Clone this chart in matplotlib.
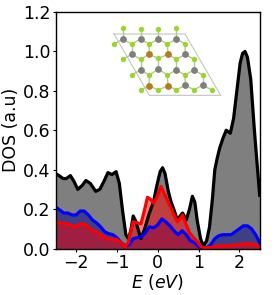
import numpy as np
import matplotlib
matplotlib.use("Agg")
import matplotlib.pyplot as plt

# total DOS
e_total = [-2.5, -2.42, -2.32, -2.24, -2.14, -2.05, -1.96, -1.85, -1.76, -1.65, -1.52, -1.42, -1.32, -1.22, -1.12, -1.02,
           -0.94, -0.86, -0.78, -0.72, -0.66, -0.6, -0.54, -0.47, -0.41, -0.32, -0.22, -0.1, -0.02, 0.06, 0.12, 0.18,
           0.26, 0.33, 0.41, 0.48, 0.55, 0.61, 0.7, 0.78, 0.85, 0.91, 0.97, 1.05, 1.12, 1.2, 1.27, 1.34, 1.4, 1.46,
           1.52, 1.6, 1.68, 1.78, 1.86, 1.94, 2.02, 2.08, 2.14, 2.2, 2.28, 2.37, 2.44, 2.5]
dos_total = [0.38, 0.37, 0.355, 0.355, 0.37, 0.34, 0.30, 0.32, 0.345, 0.33, 0.29, 0.30, 0.34, 0.385, 0.375, 0.39,
             0.33, 0.19, 0.07, 0.05, 0.09, 0.165, 0.14, 0.09, 0.05, 0.10, 0.17, 0.24, 0.32, 0.39, 0.41, 0.38,
             0.29, 0.235, 0.19, 0.145, 0.165, 0.18, 0.145, 0.2, 0.265, 0.235, 0.14, 0.05, 0.012, 0.04, 0.11, 0.25, 0.40, 0.46,
             0.51, 0.56, 0.60, 0.585, 0.66, 0.80, 0.94, 0.99, 1.0, 0.97, 0.86, 0.60, 0.42, 0.27]

# projected DOS
e_blue = [-2.5, -2.4, -2.3, -2.2, -2.1, -2.0, -1.9, -1.8, -1.7, -1.6, -1.5, -1.4, -1.3, -1.2, -1.1, -1.0, -0.9, -0.8,
          -0.7, -0.6, -0.5, -0.4, -0.3, -0.2, -0.1, 0.0, 0.1, 0.2, 0.3, 0.4, 0.5, 0.6, 0.7, 0.8, 0.9, 1.0, 1.1, 1.2,
          1.3, 1.4, 1.5, 1.6, 1.8, 2.0, 2.1, 2.2, 2.3, 2.4, 2.5]
dos_blue = [0.21, 0.195, 0.18, 0.18, 0.17, 0.17, 0.19, 0.19, 0.17, 0.145, 0.13, 0.11, 0.085, 0.075, 0.07, 0.055, 0.03, 0.015,
            0.02, 0.05, 0.055, 0.06, 0.08, 0.11, 0.105, 0.12, 0.15, 0.135, 0.115, 0.09, 0.07, 0.09, 0.07, 0.04, 0.03, 0.01, 0.003, 0.003,
            0.02, 0.05, 0.065, 0.07, 0.07, 0.1, 0.115, 0.115, 0.10, 0.07, 0.03]

e_red = [-2.5, -2.4, -2.2, -2.1, -2.0, -1.9, -1.8, -1.7, -1.6, -1.5, -1.4, -1.3, -1.2, -1.0, -0.9, -0.8, -0.72,
         -0.66, -0.6, -0.5, -0.41, -0.33, -0.25, -0.18, -0.1, -0.02, 0.08, 0.18, 0.29, 0.38, 0.48, 0.55, 0.61, 0.7, 0.78,
         0.88, 0.97, 1.05, 1.12, 1.3, 1.45, 1.8, 2.2, 2.4, 2.5]
dos_red = [0.14, 0.13, 0.125, 0.115, 0.11, 0.125, 0.125, 0.11, 0.09, 0.085, 0.07, 0.055, 0.05, 0.045, 0.03, 0.01, 0.03,
           0.09, 0.135, 0.13, 0.125, 0.19, 0.26, 0.25, 0.23, 0.26, 0.315, 0.27, 0.22, 0.18, 0.135, 0.15, 0.17, 0.12, 0.08,
           0.055, 0.035, 0.012, 0.003, 0.005, 0.012, 0.015, 0.025, 0.018, 0.005]

xticks = [-2, -1, 0, 1, 2]
yticks = [0.0, 0.2, 0.4, 0.6, 0.8, 1.0, 1.2]

# structure inset, positions read in crop pixels
gray_x = [68, 122, 175, 229, 95, 256, 122, 175, 229, 282, 256, 308]
gray_y = [58, 57, 57, 57, 103, 103, 150, 147, 150, 150, 195, 195]
orange_x = [147, 204, 147, 204]
orange_y = [103, 103, 197, 197]
green_x = [68, 122, 175, 229, 42, 95, 148, 202, 255, 68, 122, 175, 229, 282, 95, 148, 202, 255, 308, 122, 175, 229, 282, 335]
green_y = [24, 26, 26, 24, 72, 72, 72, 72, 72, 118, 118, 115, 118, 118, 165, 165, 165, 165, 165, 210, 210, 210, 210, 210]
cell_x = [42, 255, 362, 148, 42]
cell_y = [42, 42, 226, 226, 42]

plt.rcParams["font.size"] = 12.5

fig = plt.figure(figsize=(2.74, 2.95), dpi=100)
ax = fig.add_axes([55.7 / 274, 1 - 248.5 / 295, 204 / 274, 236.5 / 295])

for xs, ys, fill_col, col in [(e_total, dos_total, "black", "black"),
                              (e_blue, dos_blue, "#00008e", "blue"),
                              (e_red, dos_red, "red", "red")]:
    ax.fill_between(xs, ys, 0, color=fill_col, alpha=0.5, linewidth=0)
    ax.plot(xs, ys, color=col, linewidth=2.3)

ax.set_xlim(-2.5, 2.5)
ax.set_ylim(0, 1.2)
ax.set_xticks(xticks)
ax.set_yticks(yticks)
ax.tick_params(length=2, pad=1.8)
ax.set_xlabel(r"$E$ ($eV$)", labelpad=0.5)
ax.set_ylabel("DOS (a.u)", labelpad=2)
for s in ax.spines.values():
    s.set_linewidth(1.0)

# inset with the crystal structure
ins = fig.add_axes([100 / 274, 1 - 110 / 295, 130 / 274, 90 / 295])
ins.set_xlim(0, 390)
ins.set_ylim(270, 0)
ins.axis("off")
ins.plot(cell_x, cell_y, color="#c4c4c4", linewidth=0.8, zorder=1)

metal_x = np.array(gray_x + orange_x)
metal_y = np.array(gray_y + orange_y)
for mx, my in zip(metal_x, metal_y):
    for gx, gy in zip(green_x, green_y):
        if np.hypot(mx - gx, my - gy) < 40:
            ins.plot([mx, gx], [my, gy], color="#b5c98a", linewidth=1.0, zorder=2)
ins.scatter(green_x, green_y, s=15, color="#9ad62a", linewidths=0, zorder=3)
ins.scatter(gray_x, gray_y, s=24, color="#7f7f7f", linewidths=0, zorder=3)
ins.scatter(orange_x, orange_y, s=24, color="#b87a1e", linewidths=0, zorder=3)

fig.savefig("out.png", dpi=100)
